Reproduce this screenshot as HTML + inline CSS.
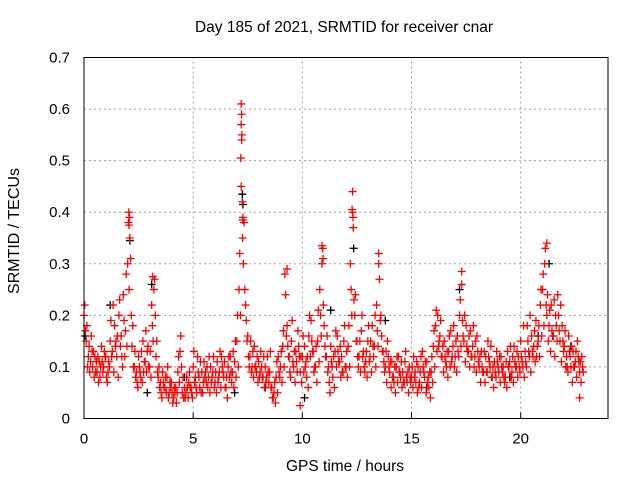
<!DOCTYPE html>
<html><head><meta charset="utf-8"><style>
html,body{margin:0;padding:0;background:#fff;}
svg{display:block;font-family:"Liberation Sans",sans-serif;}
</style></head><body>
<svg id="chart" width="640" height="480">
<text x="344" y="32" font-size="15.5" text-anchor="middle" fill="#000">Day 185 of 2021, SRMTID for receiver cnar</text>
<text x="345" y="471" font-size="15.5" text-anchor="middle" fill="#000">GPS time / hours</text>
<text transform="translate(19,231) rotate(-90)" font-size="16" text-anchor="middle" fill="#000">SRMTID / TECUs</text>
<g id="grid"></g>
<g id="axes"></g>
<g id="marks"></g>
<rect x="84" y="57.5" width="524" height="361" fill="none" stroke="#000" stroke-width="1"/>
</svg>
<script>
const xTicks=[0,5,10,15,20];
const yTicks=[0,0.1,0.2,0.3,0.4,0.5,0.6,0.7];
const yTickLabels=["0","0.1","0.2","0.3","0.4","0.5","0.6","0.7"];
const tStart=0, tStep=0.1;
const seriesA=[0.20,0.15,0.12,0.11,0.10,0.12,0.09,0.11,0.14,0.10,
0.12,0.09,0.15,0.13,0.18,0.12,0.20,0.16,0.24,0.17,
0.30,0.35,0.14,0.10,0.09,0.12,0.08,0.15,0.11,0.13,
0.10,0.22,0.25,0.12,0.08,0.07,0.09,0.06,0.08,0.05,
0.07,0.04,0.06,0.09,0.13,0.05,0.06,0.08,0.07,0.06,
0.10,0.08,0.12,0.06,0.09,0.11,0.07,0.08,0.10,0.09,
0.07,0.11,0.09,0.12,0.08,0.06,0.10,0.12,0.09,0.11,
0.15,0.25,0.45,0.30,0.22,0.16,0.12,0.10,0.14,0.09,
0.11,0.13,0.08,0.10,0.12,0.09,0.06,0.05,0.08,0.12,
0.10,0.14,0.28,0.18,0.12,0.15,0.10,0.13,0.17,0.09,
0.12,0.14,0.08,0.16,0.19,0.13,0.10,0.15,0.25,0.30,
0.18,0.12,0.10,0.14,0.08,0.13,0.16,0.11,0.12,0.15,
0.10,0.14,0.30,0.40,0.20,0.15,0.12,0.17,0.13,0.11,
0.15,0.12,0.18,0.14,0.22,0.30,0.20,0.13,0.10,0.15,
0.09,0.11,0.07,0.10,0.12,0.08,0.09,0.11,0.07,0.10,
0.08,0.12,0.07,0.10,0.09,0.13,0.08,0.11,0.06,0.09,
0.14,0.18,0.20,0.16,0.12,0.15,0.10,0.13,0.17,0.14,
0.12,0.16,0.20,0.26,0.15,0.18,0.13,0.17,0.14,0.12,
0.16,0.10,0.13,0.09,0.12,0.15,0.10,0.08,0.11,0.13,
0.09,0.12,0.10,0.08,0.13,0.11,0.09,0.14,0.10,0.12,
0.15,0.10,0.13,0.18,0.12,0.16,0.14,0.19,0.15,0.22,
0.25,0.30,0.20,0.18,0.22,0.16,0.20,0.24,0.15,0.18,
0.14,0.12,0.16,0.10,0.13,0.11,0.15,0.09,0.12];
const seriesB=[0.22,0.18,0.14,0.16,0.13,0.09,0.12,0.08,0.11,0.13,
0.08,0.11,0.19,0.22,0.14,0.16,0.23,0.12,0.19,0.28,
0.38,0.31,0.18,0.13,0.07,0.10,0.13,0.09,0.17,0.14,
0.13,0.18,0.27,0.15,0.10,0.05,0.07,0.08,0.10,0.07,
0.05,0.06,0.03,0.12,0.16,0.08,0.04,0.06,0.09,0.05,
0.13,0.06,0.09,0.11,0.05,0.08,0.10,0.12,0.07,0.12,
0.09,0.07,0.13,0.10,0.11,0.08,0.12,0.09,0.13,0.15,
0.20,0.32,0.55,0.38,0.19,0.12,0.15,0.13,0.10,0.12,
0.08,0.10,0.12,0.07,0.09,0.13,0.04,0.07,0.11,0.09,
0.13,0.17,0.24,0.14,0.09,0.19,0.13,0.11,0.14,0.12,
0.16,0.10,0.12,0.20,0.15,0.09,0.14,0.21,0.20,0.33,
0.14,0.16,0.07,0.11,0.12,0.17,0.13,0.14,0.09,0.18,
0.13,0.18,0.25,0.37,0.24,0.12,0.15,0.20,0.10,0.13,
0.18,0.15,0.14,0.20,0.17,0.27,0.16,0.11,0.13,0.12,
0.11,0.08,0.10,0.12,0.09,0.11,0.07,0.13,0.09,0.08,
0.10,0.08,0.11,0.06,0.12,0.10,0.11,0.07,0.09,0.12,
0.17,0.21,0.14,0.19,0.14,0.12,0.13,0.16,0.11,0.18,
0.15,0.13,0.23,0.19,0.20,0.14,0.16,0.12,0.18,0.15,
0.13,0.12,0.10,0.13,0.09,0.12,0.14,0.10,0.09,0.11,
0.12,0.10,0.08,0.11,0.10,0.14,0.12,0.11,0.13,0.10,
0.12,0.18,0.11,0.15,0.20,0.13,0.17,0.12,0.18,0.25,
0.28,0.33,0.24,0.21,0.17,0.23,0.18,0.20,0.22,0.15,
0.17,0.10,0.13,0.14,0.10,0.13,0.12,0.11,0.10];
const seriesC=[0.17,0.10,0.09,0.13,0.08,0.11,0.07,0.10,0.09,0.12,
0.07,0.10,0.12,0.09,0.15,0.08,0.14,0.10,0.12,0.14,
0.25,0.20,0.10,0.08,0.06,0.09,0.07,0.11,0.09,0.10,
0.08,0.15,0.20,0.09,0.06,0.04,0.06,0.05,0.04,0.06,
0.03,0.05,0.05,0.07,0.10,0.04,0.05,0.04,0.06,0.04,
0.07,0.05,0.08,0.05,0.07,0.09,0.06,0.05,0.08,0.06,
0.05,0.08,0.06,0.09,0.06,0.04,0.08,0.07,0.06,0.08,
0.10,0.20,0.35,0.25,0.15,0.10,0.09,0.08,0.10,0.07,
0.09,0.08,0.06,0.08,0.07,0.06,0.04,0.03,0.05,0.08,
0.07,0.10,0.16,0.12,0.08,0.11,0.07,0.09,0.12,0.07,
0.09,0.11,0.06,0.12,0.13,0.10,0.07,0.11,0.16,0.22,
0.12,0.09,0.05,0.10,0.06,0.10,0.11,0.08,0.09,0.10,
0.08,0.10,0.20,0.23,0.15,0.10,0.09,0.12,0.09,0.08,
0.11,0.09,0.12,0.10,0.14,0.19,0.13,0.09,0.07,0.10,
0.06,0.08,0.05,0.07,0.09,0.06,0.07,0.08,0.05,0.07,
0.06,0.09,0.05,0.07,0.06,0.09,0.05,0.08,0.04,0.07,
0.10,0.13,0.15,0.12,0.09,0.11,0.08,0.10,0.12,0.10,
0.09,0.12,0.14,0.16,0.11,0.13,0.10,0.12,0.10,0.09,
0.11,0.07,0.09,0.07,0.09,0.11,0.08,0.06,0.08,0.10,
0.07,0.09,0.07,0.06,0.10,0.08,0.07,0.10,0.08,0.09,
0.11,0.08,0.10,0.13,0.09,0.12,0.11,0.14,0.12,0.16,
0.18,0.22,0.15,0.13,0.16,0.12,0.15,0.17,0.11,0.13,
0.10,0.09,0.12,0.07,0.10,0.08,0.11,0.07,0.09];
const spikeTimes=[7.2,7.22,7.2,7.22,7.18,7.25,7.28,7.27,2.05,2.08,2.06,12.3,12.28,12.32,9.3,10.9,13.5,21.2,17.3,22.7,9.9,3.15,10.95];
const spikeValues=[0.61,0.59,0.57,0.54,0.505,0.42,0.39,0.385,0.40,0.39,0.375,0.44,0.405,0.39,0.29,0.335,0.32,0.34,0.285,0.04,0.025,0.275,0.31];
const blackTimes=[7.25,7.28,2.1,12.35,21.3,3.1,0.05,1.2,2.9,4.6,6.9,8.3,11.3,13.8,15.7,17.2,19.5,20.8,22.3,10.1];
const blackValues=[0.435,0.415,0.345,0.33,0.30,0.26,0.16,0.22,0.05,0.08,0.05,0.06,0.21,0.19,0.06,0.25,0.08,0.16,0.14,0.04];

const X0=84,X1=608,Y0=418.5,Y1=57.5;
const xs=t=>X0+(t-0)/24*(X1-X0);
const ys=v=>Y0-(v-0)/0.7*(Y0-Y1);
const NS="http://www.w3.org/2000/svg";
const grid=document.getElementById('grid'),axes=document.getElementById('axes'),marks=document.getElementById('marks');
function mk(tag,attrs,parent){const e=document.createElementNS(NS,tag);for(const k in attrs)e.setAttribute(k,attrs[k]);parent.appendChild(e);return e;}
xTicks.forEach(t=>{
  const x=xs(t);
  if(t>0){const g=mk('line',{x1:x,x2:x,y1:Y0,y2:Y1,stroke:'#a0a0a0','stroke-dasharray':'2,3'},grid);
  
  }
  const tk=mk('line',{x1:x,x2:x,y1:Y0,y2:Y0-6,stroke:'#000'},axes);
  
  
  const lb=mk('text',{x:x,y:Y0+25,'font-size':15,'text-anchor':'middle'},axes);lb.textContent=String(t);
  
  
});
yTicks.forEach((v,i)=>{
  const y=ys(v);
  if(v>0&&v<0.7){const g=mk('line',{x1:X0,x2:X1,y1:y,y2:y,stroke:'#a0a0a0','stroke-dasharray':'2,3'},grid);
  
  }
  const lb=mk('text',{x:X0-14,y:y+5,'font-size':15,'text-anchor':'end'},axes);lb.textContent=yTickLabels[i];
  
  
});
function plus(t,v,color){
  const x=xs(t),y=ys(v);
  const p=mk('path',{d:`M${x-4},${y}h8M${x},${y-4}v8`,stroke:color,'stroke-width':1.3,fill:'none'},marks);
  
  
}
blackTimes.forEach((t,i)=>plus(t,blackValues[i],'#000'));
seriesA.forEach((v,i)=>plus(tStart+i*tStep,v,'#ff0000'));
seriesB.forEach((v,i)=>plus(tStart+i*tStep+0.033,v,'#ff0000'));
seriesC.forEach((v,i)=>plus(tStart+i*tStep+0.066,v,'#ff0000'));
spikeTimes.forEach((t,i)=>plus(t,spikeValues[i],'#ff0000'));
</script>
</body></html>
